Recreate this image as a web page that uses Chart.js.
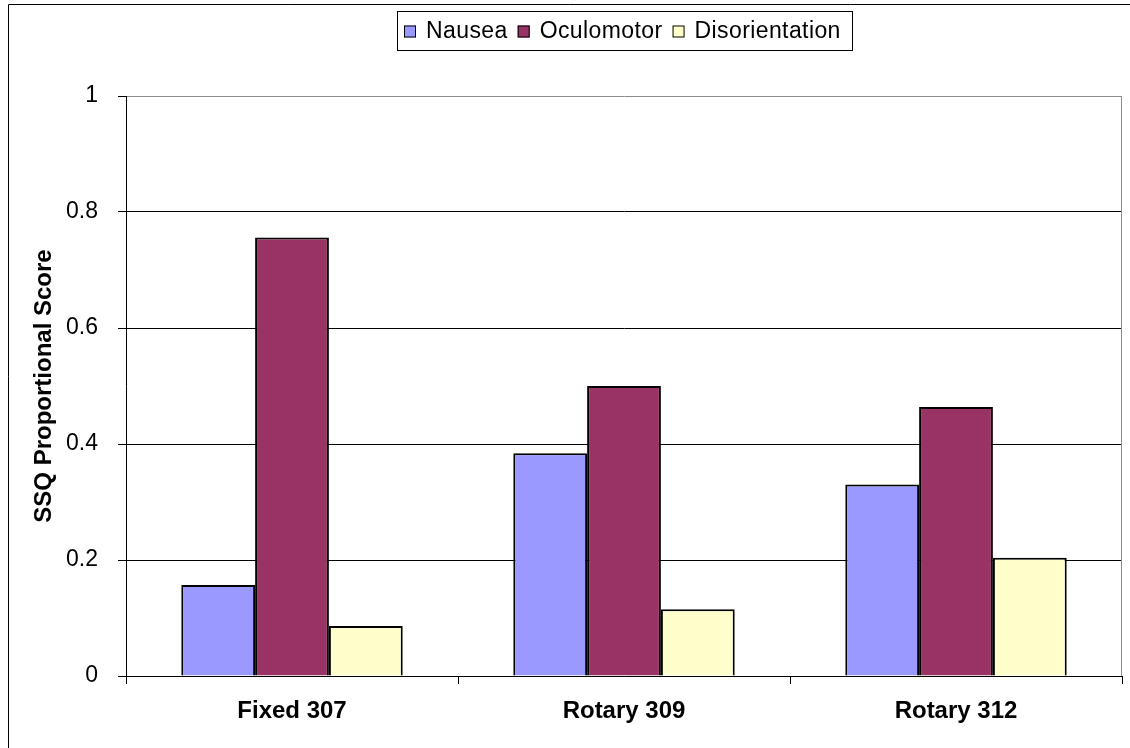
<!DOCTYPE html>
<html>
<head>
<meta charset="utf-8">
<script src="https://cdn.jsdelivr.net/npm/chart.js@4"></script>
<style>
  html, body { margin: 0; padding: 0; background: #ffffff; }
  canvas { display: block; }
</style>
</head>
<body>
<canvas id="c" width="1130" height="748"></canvas>
<script>
// SSQ subscale scores per condition
const categories = ['Fixed 307', 'Rotary 309', 'Rotary 312'];
const seriesNames = ['Nausea', 'Oculomotor', 'Disorientation'];
const nausea = [0.157, 0.384, 0.330];
const oculomotor = [0.756, 0.500, 0.464];
const disorientation = [0.086, 0.115, 0.204];
const yTicks = [0, 0.2, 0.4, 0.6, 0.8, 1];
const yTickLabels = ['0', '0.2', '0.4', '0.6', '0.8', '1'];
const axisTitle = 'SSQ Proportional Score';

const FONT = '"Liberation Sans", Arial, Helvetica, sans-serif';
const fills = ['#9999FF', '#993366', '#FFFFCC'];

// Outer frame of the chart object (left and top edges)
const framePlugin = {
  id: 'frame',
  afterDraw(chart) {
    const ctx = chart.ctx;
    ctx.save();
    ctx.strokeStyle = '#000000';
    ctx.lineWidth = 1;
    ctx.beginPath();
    ctx.moveTo(8.5, chart.height + 2);
    ctx.lineTo(8.5, 4.5);
    ctx.lineTo(chart.width + 2, 4.5);
    ctx.stroke();
    ctx.restore();
  }
};

// Right-hand edge of the plot area
const plotEdgePlugin = {
  id: 'plotEdge',
  beforeDatasetsDraw(chart) {
    const a = chart.chartArea;
    const ctx = chart.ctx;
    ctx.save();
    ctx.strokeStyle = '#8c8c8c';
    ctx.lineWidth = 1;
    ctx.beginPath();
    ctx.moveTo(Math.round(a.right) - 0.5, a.top);
    ctx.lineTo(Math.round(a.right) - 0.5, a.bottom);
    ctx.stroke();
    ctx.restore();
  }
};

// Boxed legend centred above the plot
const boxLegendPlugin = {
  id: 'boxLegend',
  afterDraw(chart) {
    const ctx = chart.ctx;
    const sets = chart.data.datasets;
    ctx.save();
    ctx.font = '23px ' + FONT;
    if ('letterSpacing' in ctx) ctx.letterSpacing = '0.4px';
    const box = 12, gapText = 10, gapItem = 10, padL = 7, padR = 11;
    let width = padL + padR;
    sets.forEach((ds, i) => {
      width += box + gapText + ctx.measureText(ds.label).width;
      if (i < sets.length - 1) width += gapItem;
    });
    const cx = 624, top = 11, height = 39;
    const left = Math.round(cx - width / 2);
    ctx.strokeStyle = '#000000';
    ctx.lineWidth = 1;
    ctx.strokeRect(left + 0.5, top + 0.5, Math.round(width), height);
    let x = left + padL;
    const mid = top + height / 2 + 1;
    sets.forEach((ds) => {
      ctx.fillStyle = ds.backgroundColor;
      ctx.fillRect(x, mid - box / 2, box, box);
      ctx.strokeStyle = '#000000';
      ctx.strokeRect(x + 0.5, mid - box / 2 + 0.5, box - 1, box - 1);
      x += box + gapText;
      ctx.fillStyle = '#000000';
      ctx.textBaseline = 'middle';
      ctx.textAlign = 'left';
      ctx.fillText(ds.label, x, mid);
      x += ctx.measureText(ds.label).width + gapItem;
    });
    ctx.restore();
  }
};

const seriesValues = [nausea, oculomotor, disorientation];

new Chart(document.getElementById('c'), {
  type: 'bar',
  data: {
    labels: categories,
    datasets: seriesNames.map((name, i) => ({
      label: name,
      data: seriesValues[i],
      backgroundColor: fills[i],
      borderColor: '#000000',
      borderWidth: 2,
      categoryPercentage: 0.667,
      barPercentage: 1.0
    }))
  },
  options: {
    responsive: false,
    devicePixelRatio: 1,
    animation: false,
    layout: { padding: { left: 10, right: 8, top: 96, bottom: 0 } },
    plugins: {
      legend: { display: false },
      tooltip: { enabled: false }
    },
    scales: {
      x: {
        type: 'category',
        offset: true,
        grid: {
          display: true,
          offset: true,
          drawOnChartArea: false,
          drawTicks: true,
          tickLength: 8,
          color: '#000000',
          lineWidth: 1
        },
        border: { display: true, color: '#000000', width: 1 },
        ticks: {
          color: '#000000',
          padding: 13,
          font: { family: FONT, size: 24, weight: 'bold' }
        },
        afterFit(scale) { scale.height = 72; }
      },
      y: {
        min: 0,
        max: 1,
        afterBuildTicks(scale) {
          scale.ticks = yTicks.map(v => ({ value: v }));
        },
        grid: {
          color: (c) => (c.tick && c.tick.value === 1 ? '#8c8c8c' : '#000000'),
          tickColor: '#000000',
          lineWidth: 1,
          drawTicks: true,
          tickLength: 8
        },
        border: { display: true, color: '#000000', width: 1 },
        ticks: {
          color: '#000000',
          padding: 20,
          font: { family: FONT, size: 23 },
          callback: (value) => yTickLabels[yTicks.indexOf(value)]
        },
        title: {
          display: true,
          text: axisTitle,
          color: '#000000',
          font: { family: FONT, size: 24, weight: 'bold' },
          padding: { top: 20, bottom: 0 }
        },
        afterFit(scale) { scale.width = 116; }
      }
    }
  },
  plugins: [framePlugin, plotEdgePlugin, boxLegendPlugin]
});
</script>
</body>
</html>
